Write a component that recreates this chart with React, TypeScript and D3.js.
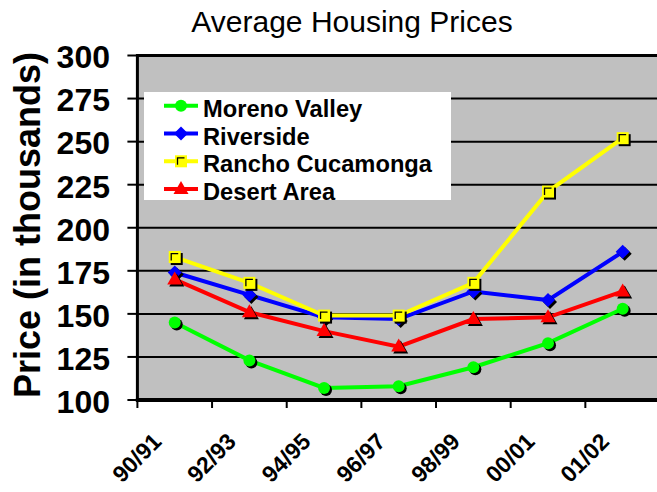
import * as d3 from "d3";
import React from "react";

const width = 657;
const height = 492;
const font = "'Liberation Sans', Arial, sans-serif";

// data
const categories = ["90/91", "92/93", "94/95", "96/97", "98/99", "00/01", "01/02"];
const morenoValley = [145, 123, 107, 108, 119, 133, 153];
const riverside = [174, 161, 148, 147, 163, 158, 186];
const ranchoCucamonga = [183, 168, 149, 149, 168, 221, 252];
const desertArea = [170, 151, 140, 131, 147, 148, 163];
const yTicks = [100, 125, 150, 175, 200, 225, 250, 275, 300];

const seriesNames = ["Moreno Valley", "Riverside", "Rancho Cucamonga", "Desert Area"];
const seriesColors = ["#00ff00", "#0000ff", "#ffff00", "#ff0000"];
const seriesShapes = ["circle", "diamond", "square", "triangle"];

const plot = { left: 137.4, right: 660, top: 55.5, bottom: 400 };

const xScale = d3
  .scaleBand()
  .domain(categories)
  .range([plot.left, plot.right])
  .paddingInner(0)
  .paddingOuter(0);
const yScale = d3.scaleLinear().domain([100, 300]).range([plot.bottom, plot.top]);
const cx = (c: string) => (xScale(c) as number) + xScale.bandwidth() / 2;

const line = d3
  .line<number>()
  .x((d, i) => cx(categories[i]))
  .y((d) => yScale(d));

// marker drawn at 0,0 (shadow handled by caller)
const Marker = ({ shape, color, shadow }: { shape: string; color: string; shadow?: boolean }) => {
  const fill = shadow ? "#000" : color;
  if (shape === "circle") return <circle r={6} fill={fill} />;
  if (shape === "diamond") return <path d="M0,-7L7,0L0,7L-7,0Z" fill={fill} />;
  if (shape === "triangle") return <path d="M0,-8L7.5,5L-7.5,5Z" fill={fill} />;
  return (
    <g>
      <rect x={-6} y={-6} width={12} height={12} fill={fill} />
      {!shadow && <path d="M-3.5,3.5V-3.5H3.5" fill="none" stroke="#000" strokeWidth={1.3} />}
    </g>
  );
};

const MarkerWithShadow = ({ shape, color }: { shape: string; color: string }) => (
  <g>
    <g transform="translate(2,2)">
      <Marker shape={shape} color={color} shadow />
    </g>
    <Marker shape={shape} color={color} />
  </g>
);

export default function App() {
  const allSeries = [morenoValley, riverside, ranchoCucamonga, desertArea];

  return (
    <svg
      width={width}
      height={height}
      style={{ position: "absolute", left: 0, top: 0, background: "#fff" }}
      fontFamily={font}
    >
      {/* plot area */}
      <rect
        x={plot.left}
        y={plot.top}
        width={plot.right - plot.left}
        height={plot.bottom - plot.top}
        fill="#c0c0c0"
      />

      {/* gridlines */}
      {yTicks.slice(1).map((t) => (
        <line
          key={t}
          x1={plot.left}
          x2={plot.right}
          y1={yScale(t)}
          y2={yScale(t)}
          stroke="#000"
          strokeWidth={t === 300 ? 3 : 2}
        />
      ))}

      {/* y axis */}
      <line x1={plot.left} x2={plot.left} y1={plot.top - 1.5} y2={plot.bottom + 2} stroke="#000" strokeWidth={3} />
      {yTicks.map((t) => (
        <g key={t} transform={`translate(0,${yScale(t)})`}>
          <line x1={plot.left - 10} x2={plot.left} stroke="#000" strokeWidth={2} />
          <text x={110} dy="0.4em" textAnchor="end" fontSize={32} fontWeight="bold">
            {t}
          </text>
        </g>
      ))}

      {/* x axis */}
      <line x1={plot.left - 1.5} x2={plot.right} y1={plot.bottom} y2={plot.bottom} stroke="#000" strokeWidth={4} />
      {categories.map((c) => (
        <g key={c}>
          <line
            x1={xScale(c) as number}
            x2={xScale(c) as number}
            y1={plot.bottom}
            y2={plot.bottom + 8}
            stroke="#000"
            strokeWidth={2}
          />
          <text
            transform={`translate(${cx(c) - 12},443) rotate(-45)`}
            textAnchor="end"
            fontSize={23}
            fontWeight="bold"
          >
            {c}
          </text>
        </g>
      ))}

      {/* series */}
      {allSeries.map((values, si) => (
        <g key={seriesNames[si]}>
          <path d={line(values) || ""} fill="none" stroke={seriesColors[si]} strokeWidth={4} />
          {values.map((v, i) => (
            <g key={i} transform={`translate(${cx(categories[i])},${yScale(v)})`}>
              <MarkerWithShadow shape={seriesShapes[si]} color={seriesColors[si]} />
            </g>
          ))}
        </g>
      ))}

      {/* legend */}
      <rect x={144} y={92} width={307} height={108} fill="#fff" />
      {seriesNames.map((name, i) => {
        const base = 116.7 + i * 27.8;
        return (
          <g key={name}>
            <line x1={164} x2={198} y1={base - 11} y2={base - 11} stroke={seriesColors[i]} strokeWidth={4} />
            <g transform={`translate(181,${base - 11})`}>
              <Marker shape={seriesShapes[i]} color={seriesColors[i]} />
            </g>
            <text x={203} y={base} fontSize={23.7} fontWeight="bold">
              {name}
            </text>
          </g>
        );
      })}

      {/* titles */}
      <text x={352} y={32} textAnchor="middle" fontSize={30}>
        Average Housing Prices
      </text>
      <text
        transform="translate(40,225) rotate(-90)"
        textAnchor="middle"
        fontSize={36}
        fontWeight="bold"
      >
        Price (in thousands)
      </text>
    </svg>
  );
}
